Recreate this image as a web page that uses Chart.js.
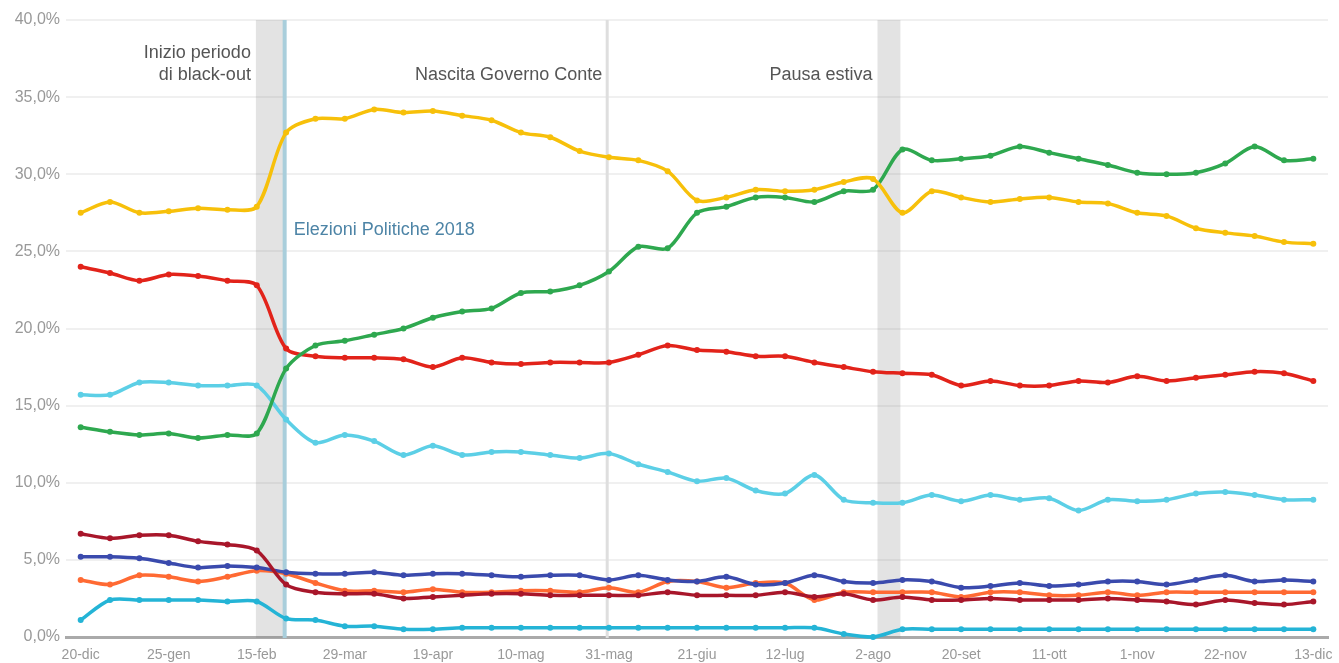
<!DOCTYPE html>
<html lang="it">
<head>
<meta charset="utf-8">
<title>Sondaggi 2018</title>
<script src="https://cdn.jsdelivr.net/npm/chart.js@4.4.1/dist/chart.umd.min.js"></script>
<style>
    html, body { margin: 0; padding: 0; background: #ffffff; }
    #wrap { width: 1339px; height: 663px; position: relative; }
</style>
</head>
<body>
<div id="wrap"><canvas id="pollChart"></canvas></div>
<script>
const dates = ['20-dic', '11-gen', '18-gen', '25-gen', '1-feb', '8-feb', '15-feb', '8-mar', '22-mar', '29-mar',
    '5-apr', '12-apr', '19-apr', '26-apr', '3-mag', '10-mag', '17-mag', '24-mag', '31-mag', '7-giu',
    '14-giu', '21-giu', '28-giu', '5-lug', '12-lug', '19-lug', '26-lug', '2-ago', '6-set', '13-set',
    '20-set', '27-set', '4-ott', '11-ott', '18-ott', '25-ott', '1-nov', '8-nov', '15-nov', '22-nov',
    '29-nov', '6-dic', '13-dic'];

const tickDates = ['20-dic', '25-gen', '15-feb', '29-mar', '19-apr', '10-mag', '31-mag', '21-giu',
    '12-lug', '2-ago', '20-set', '11-ott', '1-nov', '22-nov', '13-dic'];

const yTicks = [0, 5, 10, 15, 20, 25, 30, 35, 40];

const m5s = [27.5, 28.2, 27.5, 27.6, 27.8, 27.7, 27.9, 32.7, 33.6, 33.6, 34.2, 34.0, 34.1, 33.8, 33.5, 32.7,
    32.4, 31.5, 31.1, 30.9, 30.2, 28.3, 28.5, 29.0, 28.9, 29.0, 29.5, 29.7, 27.5, 28.9, 28.5, 28.2, 28.4,
    28.5, 28.2, 28.1, 27.5, 27.3, 26.5, 26.2, 26.0, 25.6, 25.5];
const lega = [13.6, 13.3, 13.1, 13.2, 12.9, 13.1, 13.2, 17.4, 18.9, 19.2, 19.6, 20.0, 20.7, 21.1, 21.3, 22.3,
    22.4, 22.8, 23.7, 25.3, 25.2, 27.5, 27.9, 28.5, 28.5, 28.2, 28.9, 29.0, 31.6, 30.9, 31.0, 31.2, 31.8,
    31.4, 31.0, 30.6, 30.1, 30.0, 30.1, 30.7, 31.8, 30.9, 31.0];
const pd = [24.0, 23.6, 23.1, 23.5, 23.4, 23.1, 22.8, 18.7, 18.2, 18.1, 18.1, 18.0, 17.5, 18.1, 17.8, 17.7,
    17.8, 17.8, 17.8, 18.3, 18.9, 18.6, 18.5, 18.2, 18.2, 17.8, 17.5, 17.2, 17.1, 17.0, 16.3, 16.6, 16.3,
    16.3, 16.6, 16.5, 16.9, 16.6, 16.8, 17.0, 17.2, 17.1, 16.6];
const forzaItalia = [15.7, 15.7, 16.5, 16.5, 16.3, 16.3, 16.3, 14.1, 12.6, 13.1, 12.7, 11.8, 12.4, 11.8, 12.0,
    12.0, 11.8, 11.6, 11.9, 11.2, 10.7, 10.1, 10.3, 9.5, 9.3, 10.5, 8.9, 8.7, 8.7, 9.2, 8.8, 9.2, 8.9, 9.0,
    8.2, 8.9, 8.8, 8.9, 9.3, 9.4, 9.2, 8.9, 8.9];
const leu = [6.7, 6.4, 6.6, 6.6, 6.2, 6.0, 5.6, 3.4, 2.9, 2.8, 2.8, 2.5, 2.6, 2.7, 2.8, 2.8, 2.7, 2.7, 2.7,
    2.7, 2.9, 2.7, 2.7, 2.7, 2.9, 2.6, 2.8, 2.4, 2.6, 2.4, 2.4, 2.5, 2.4, 2.4, 2.4, 2.5, 2.4, 2.3, 2.1,
    2.4, 2.2, 2.1, 2.3];
const fdi = [5.2, 5.2, 5.1, 4.8, 4.5, 4.6, 4.5, 4.2, 4.1, 4.1, 4.2, 4.0, 4.1, 4.1, 4.0, 3.9, 4.0, 4.0, 3.7,
    4.0, 3.7, 3.6, 3.9, 3.4, 3.5, 4.0, 3.6, 3.5, 3.7, 3.6, 3.2, 3.3, 3.5, 3.3, 3.4, 3.6, 3.6, 3.4, 3.7,
    4.0, 3.6, 3.7, 3.6];
const piuEuropa = [3.7, 3.4, 4.0, 3.9, 3.6, 3.9, 4.3, 4.1, 3.5, 3.0, 3.0, 2.9, 3.1, 2.9, 2.9, 3.0, 3.0, 2.9,
    3.2, 2.9, 3.6, 3.6, 3.2, 3.5, 3.5, 2.4, 2.9, 2.9, 2.9, 2.9, 2.6, 2.9, 2.9, 2.7, 2.7, 2.9, 2.7, 2.9,
    2.9, 2.9, 2.9, 2.9, 2.9];
const noiConItalia = [1.1, 2.4, 2.4, 2.4, 2.4, 2.3, 2.3, 1.2, 1.1, 0.7, 0.7, 0.5, 0.5, 0.6, 0.6, 0.6, 0.6,
    0.6, 0.6, 0.6, 0.6, 0.6, 0.6, 0.6, 0.6, 0.6, 0.2, 0.0, 0.5, 0.5, 0.5, 0.5, 0.5, 0.5, 0.5, 0.5, 0.5,
    0.5, 0.5, 0.5, 0.5, 0.5, 0.5];

// bande e linee verticali (in indici di categoria)
const bands = [
    { from: 5.97, to: 6.9 },
    { from: 27.15, to: 27.93 }
];
const markerLines = [
    { at: 6.95, color: '#a9cedb', width: 4 },
    { at: 17.94, color: '#dedede', width: 3 }
];
const notes = [
    { text: 'Inizio periodo', at: 5.97, value: 37.85, align: 'right', color: '#555555' },
    { text: 'di black-out', at: 5.97, value: 36.45, align: 'right', color: '#555555' },
    { text: 'Nascita Governo Conte', at: 17.94, value: 36.45, align: 'right', color: '#555555' },
    { text: 'Pausa estiva', at: 27.15, value: 36.45, align: 'right', color: '#555555' },
    { text: 'Elezioni Politiche 2018', at: 6.95, value: 26.4, align: 'left', color: '#4d84a6' }
];

const FONT = "'Liberation Sans', Arial, sans-serif";

class PollTrendChart {
    constructor(canvasId) {
        this.ctx = document.getElementById(canvasId).getContext('2d');
        this.chart = new Chart(this.ctx, this.getChartConfig());
    }

    buildDatasets() {
        const series = [
            { label: 'M5S', data: m5s, color: '#f7c00a' },
            { label: 'Lega', data: lega, color: '#2ea84f' },
            { label: 'PD', data: pd, color: '#e2231a' },
            { label: 'Forza Italia', data: forzaItalia, color: '#5ccfe6' },
            { label: 'LeU', data: leu, color: '#a8162a' },
            { label: 'FdI', data: fdi, color: '#3a4aad' },
            { label: '+Europa', data: piuEuropa, color: '#ff6a33' },
            { label: "Noi con l'Italia", data: noiConItalia, color: '#24b4d6' }
        ];
        return series.map(s => ({
            label: s.label,
            data: s.data,
            borderColor: s.color,
            backgroundColor: s.color,
            borderWidth: 3.5,
            pointRadius: 3,
            pointBorderWidth: 0,
            pointHoverRadius: 3,
            tension: 0.3,
            clip: false
        }));
    }

    getAnnotationPlugin() {
        return {
            id: 'periodi',
            beforeDatasetsDraw(chart) {
                const { ctx, chartArea, scales } = chart;
                const x = scales.x;
                const y = scales.y;
                ctx.save();
                ctx.fillStyle = 'rgba(128,128,128,0.22)';
                bands.forEach(b => {
                    const x1 = x.getPixelForValue(b.from);
                    const x2 = x.getPixelForValue(b.to);
                    ctx.fillRect(x1, chartArea.top, x2 - x1, chartArea.bottom - chartArea.top + 1);
                });
                markerLines.forEach(l => {
                    const px = x.getPixelForValue(l.at);
                    ctx.strokeStyle = l.color;
                    ctx.lineWidth = l.width;
                    ctx.beginPath();
                    ctx.moveTo(px, chartArea.top);
                    ctx.lineTo(px, chartArea.bottom + 1);
                    ctx.stroke();
                });
                ctx.font = `18px ${FONT}`;
                ctx.textBaseline = 'middle';
                notes.forEach(n => {
                    const px = x.getPixelForValue(n.at);
                    ctx.fillStyle = n.color;
                    ctx.textAlign = n.align;
                    const offset = n.align === 'right' ? -5 : 9;
                    ctx.fillText(n.text, px + offset, y.getPixelForValue(n.value));
                });
                ctx.restore();
            }
        };
    }

    getChartConfig() {
        return {
            type: 'line',
            data: {
                labels: dates,
                datasets: this.buildDatasets()
            },
            options: {
                responsive: true,
                maintainAspectRatio: false,
                animation: false,
                layout: {
                    padding: { top: 20, right: 11, bottom: 0, left: 0 }
                },
                plugins: {
                    legend: { display: false },
                    title: { display: false },
                    tooltip: { enabled: false }
                },
                scales: {
                    x: {
                        type: 'category',
                        offset: true,
                        grid: { display: false },
                        border: { display: true, color: '#aaaaaa', width: 3 },
                        ticks: {
                            autoSkip: false,
                            maxRotation: 0,
                            padding: 2,
                            color: '#999999',
                            font: { family: FONT, size: 14 },
                            callback: function (value) {
                                const label = this.getLabelForValue(value);
                                return tickDates.includes(label) ? label : '';
                            }
                        },
                        afterFit: (scale) => { scale.height = 26; }
                    },
                    y: {
                        min: 0,
                        max: 40,
                        afterBuildTicks: (scale) => { scale.ticks = yTicks.map(v => ({ value: v })); },
                        grid: { color: '#f0f0f0', lineWidth: 2, drawTicks: false },
                        border: { display: false },
                        ticks: {
                            padding: 6,
                            color: '#999999',
                            font: { family: FONT, size: 16 },
                            callback: (value) => value.toFixed(1).replace('.', ',') + '%'
                        },
                        afterFit: (scale) => { scale.width = 66; }
                    }
                }
            },
            plugins: [this.getAnnotationPlugin()]
        };
    }
}

document.addEventListener('DOMContentLoaded', () => {
    new PollTrendChart('pollChart');
});
</script>
</body>
</html>
